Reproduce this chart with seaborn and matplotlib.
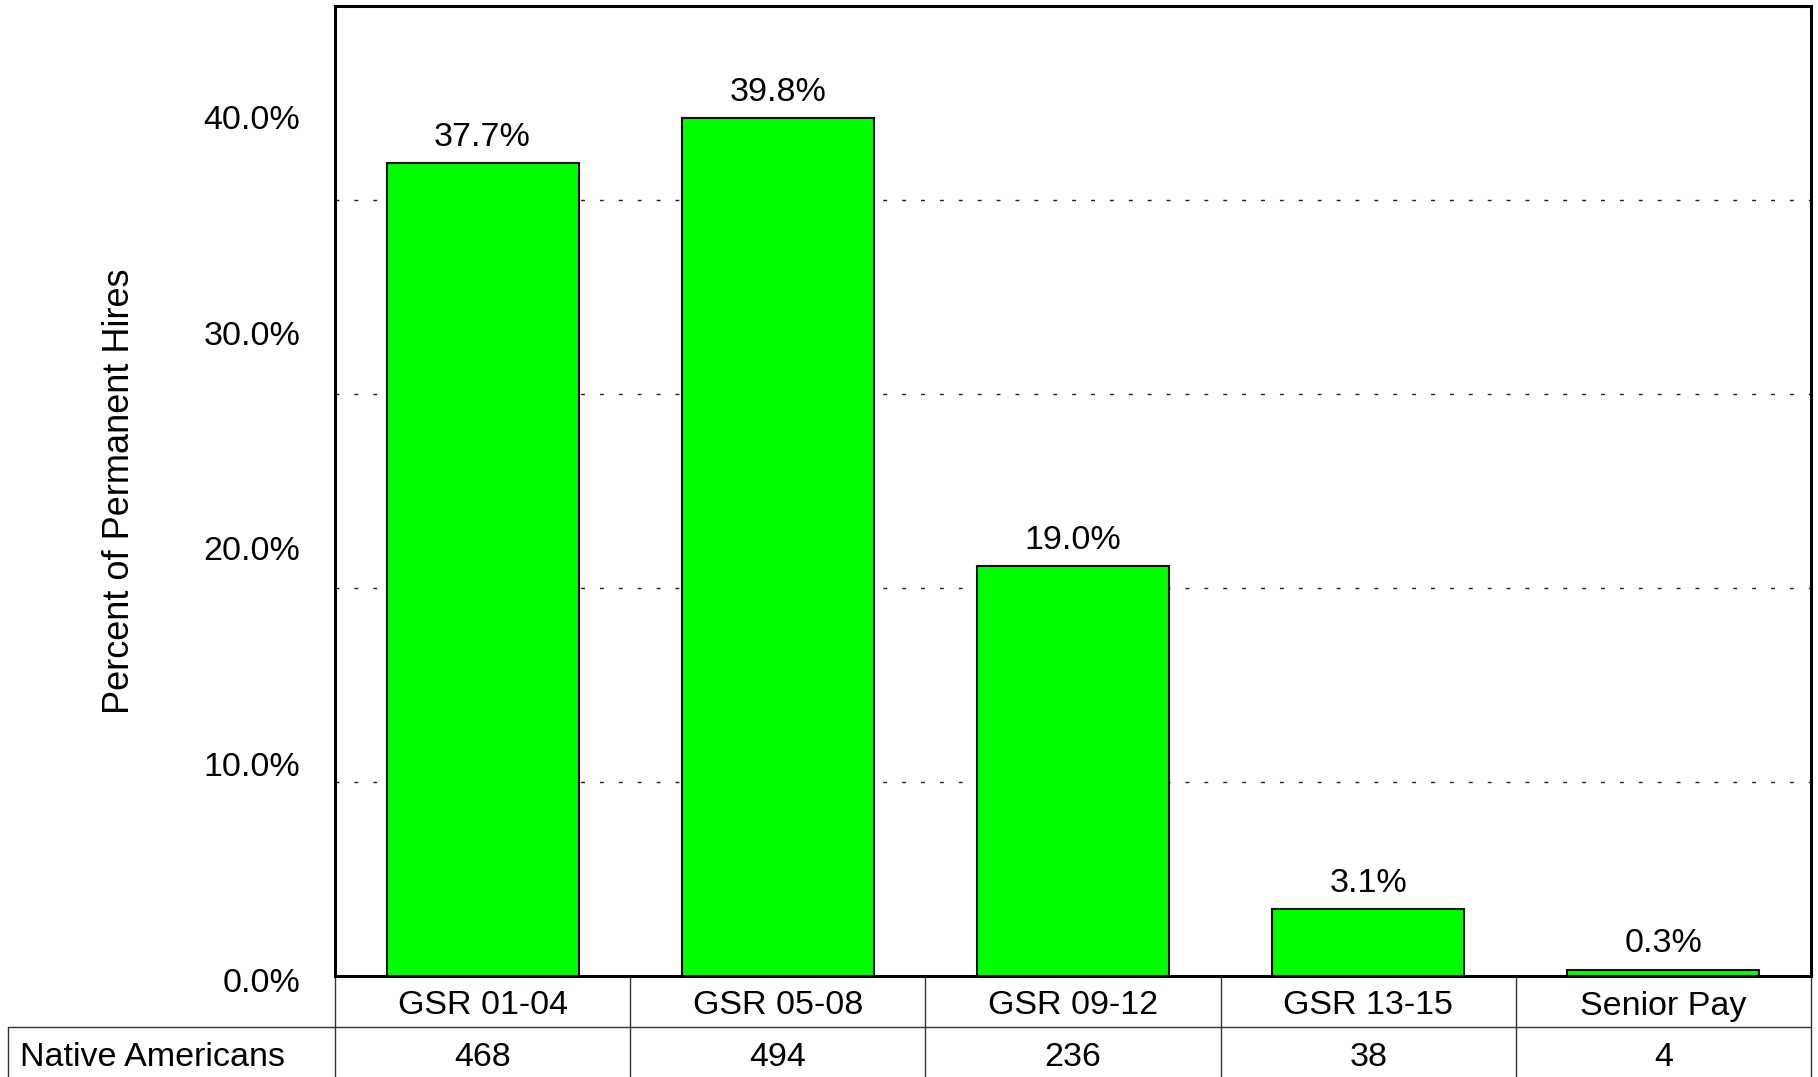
import matplotlib
matplotlib.use("Agg")
import matplotlib.pyplot as plt
import matplotlib.transforms as mtransforms
from matplotlib.ticker import FuncFormatter, MultipleLocator
import seaborn as sns
import pandas as pd

categories = ["GSR 01-04", "GSR 05-08", "GSR 09-12", "GSR 13-15", "Senior Pay"]
percents = [37.7, 39.8, 19.0, 3.1, 0.3]
counts = [468, 494, 236, 38, 4]
row_label = "Native Americans"
y_label = "Percent of Permanent Hires"
y_tick_values = [0, 10, 20, 30, 40]

sns.set_style("white")
plt.rcParams["font.family"] = ["Liberation Sans", "DejaVu Sans"]
for k in ["text.color", "axes.labelcolor", "xtick.color", "ytick.color"]:
    plt.rcParams[k] = "black"
FS = 24.5

W, H = 1818, 1077
fig = plt.figure(figsize=(W / 100, H / 100), dpi=100)
ax_l, ax_r, ax_t, ax_b = 335, 1811, 6, 976
ax = fig.add_axes([ax_l / W, (H - ax_b) / H, (ax_r - ax_l) / W, (ax_b - ax_t) / H])

df = pd.DataFrame({"cat": categories, "pct": percents})
sns.barplot(data=df, x="cat", y="pct", ax=ax, color="#00ff00", saturation=1,
            width=0.65, edgecolor="#111111", linewidth=1.5)
for p in ax.patches:
    p.set_facecolor("#00ff00")

ax.bar_label(ax.containers[0], labels=[f"{v:.1f}%" for v in percents],
             padding=7.5, fontsize=FS, color="black")

ax.set_xlim(-0.5, len(categories) - 0.5)
ax.set_ylim(0, 45)
ax.set_yticks(y_tick_values)
ax.yaxis.set_minor_locator(MultipleLocator(9))
ax.yaxis.set_major_formatter(FuncFormatter(lambda v, _: f"{v:.1f}%"))
ax.tick_params(axis="y", which="major", length=0, pad=25, labelsize=FS)
ax.tick_params(axis="y", which="minor", length=0)
shift = mtransforms.ScaledTranslation(0, -3.5 / 100, fig.dpi_scale_trans)
for t in ax.yaxis.get_major_ticks():
    t.label1.set_transform(t.label1.get_transform() + shift)
ax.grid(False)
ax.yaxis.grid(True, which="minor", color="#222222", linewidth=1.0,
              linestyle=(0, (2.8, 10.8)))
ax.set_axisbelow(True)
ax.set_xticks([])
ax.set_xlabel("")
ax.set_ylabel(y_label, fontsize=26)
ax.yaxis.set_label_coords(-0.146, 0.5)
ax.yaxis.label.set_verticalalignment("center")
for s in ax.spines.values():
    s.set_visible(True)
    s.set_color("black")
    s.set_linewidth(2.2)

# table below the axes
trans = mtransforms.blended_transform_factory(ax.transData, ax.transAxes)
axh = ax_b - ax_t
colw = (ax_r - ax_l) / len(categories)
y_mid = -(1027 - ax_b) / axh
y_bot = -(1080 - ax_b) / axh
x_left = -0.5 - (ax_l - 8) / colw
lc = "#333333"
lw = 1.0
for i in range(len(categories) + 1):
    ax.plot([i - 0.5, i - 0.5], [0, y_bot], transform=trans, color=lc,
            lw=lw, clip_on=False)
ax.plot([x_left, x_left], [y_mid, y_bot], transform=trans, color=lc, lw=lw, clip_on=False)
ax.plot([x_left, len(categories) - 0.5], [y_mid, y_mid], transform=trans,
        color=lc, lw=lw, clip_on=False)
row1_y = -(1006 - ax_b) / axh
row2_y = -(1058 - ax_b) / axh
for i, (c, n) in enumerate(zip(categories, counts)):
    ax.text(i, row1_y, c, transform=trans, ha="center", va="center", fontsize=FS)
    ax.text(i, row2_y, str(n), transform=trans, ha="center", va="center", fontsize=FS)
ax.text(x_left + 12 / colw, row2_y, row_label, transform=trans, ha="left",
        va="center", fontsize=FS)

fig.savefig("out.png", dpi=100)
